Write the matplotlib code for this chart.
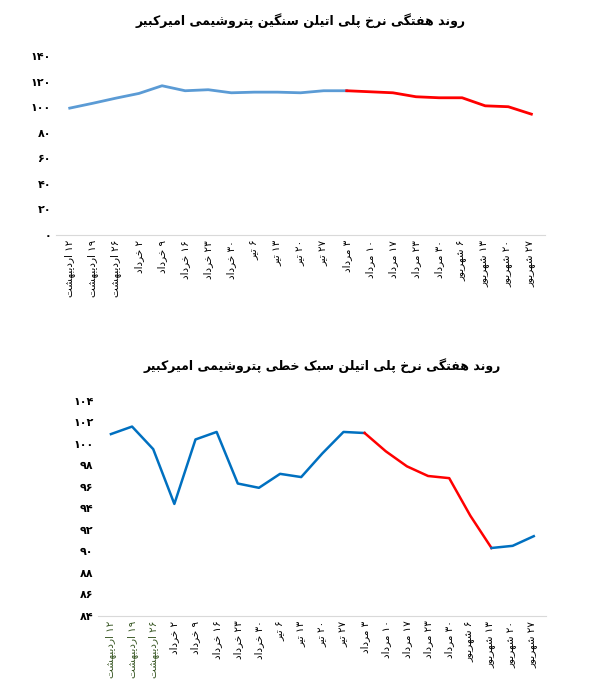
import matplotlib
matplotlib.use("Agg")
import matplotlib.pyplot as plt

categories = ["۱۲ اردیبهشت", "۱۹ اردیبهشت", "۲۶ اردیبهشت", "۲ خرداد", "۹ خرداد", "۱۶ خرداد",
              "۲۳ خرداد", "۳۰ خرداد", "۶ تیر", "۱۳ تیر", "۲۰ تیر", "۲۷ تیر", "۳ مرداد",
              "۱۰ مرداد", "۱۷ مرداد", "۲۳ مرداد", "۳۰ مرداد", "۶ شهریور", "۱۳ شهریور",
              "۲۰ شهریور", "۲۷ شهریور"]
hdpe = [99.2, 103, 107, 110.7, 116.7, 112.8, 113.6, 111.2, 111.7, 111.7, 111.2, 112.8,
        112.8, 112.0, 111.2, 108.1, 107.3, 107.3, 101.0, 100.3, 94.5]
lldpe = [100.9, 101.6, 99.5, 94.4, 100.4, 101.1, 96.3, 95.9, 97.2, 96.9, 99.1, 101.1,
         101.0, 99.3, 97.9, 97.0, 96.8, 93.3, 90.3, 90.5, 91.4]
title1 = "روند هفتگی نرخ پلی اتیلن سنگین پتروشیمی امیرکبیر"
title2 = "روند هفتگی نرخ پلی اتیلن سبک خطی پتروشیمی امیرکبیر"
yticks1 = list(range(0, 141, 20))
yticks2 = list(range(84, 105, 2))

FORMS = {
    'ا': (0xFE8D, 0xFE8E, None, None), 'ب': (0xFE8F, 0xFE90, 0xFE91, 0xFE92),
    'پ': (0xFB56, 0xFB57, 0xFB58, 0xFB59), 'ت': (0xFE95, 0xFE96, 0xFE97, 0xFE98),
    'خ': (0xFEA5, 0xFEA6, 0xFEA7, 0xFEA8), 'د': (0xFEA9, 0xFEAA, None, None),
    'ر': (0xFEAD, 0xFEAE, None, None), 'ز': (0xFEAF, 0xFEB0, None, None),
    'س': (0xFEB1, 0xFEB2, 0xFEB3, 0xFEB4), 'ش': (0xFEB5, 0xFEB6, 0xFEB7, 0xFEB8),
    'ط': (0xFEC1, 0xFEC2, 0xFEC3, 0xFEC4), 'ف': (0xFED1, 0xFED2, 0xFED3, 0xFED4),
    'ک': (0xFB8E, 0xFB8F, 0xFB90, 0xFB91), 'گ': (0xFB92, 0xFB93, 0xFB94, 0xFB95),
    'ل': (0xFEDD, 0xFEDE, 0xFEDF, 0xFEE0), 'م': (0xFEE1, 0xFEE2, 0xFEE3, 0xFEE4),
    'ن': (0xFEE5, 0xFEE6, 0xFEE7, 0xFEE8), 'ه': (0xFEE9, 0xFEEA, 0xFEEB, 0xFEEC),
    'و': (0xFEED, 0xFEEE, None, None), 'ی': (0xFBFC, 0xFBFD, 0xFBFE, 0xFBFF),
}

def shape_word(w):
    out = []
    for i, c in enumerate(w):
        if c not in FORMS:
            out.append(c); continue
        prev = w[i-1] if i > 0 else None
        nxt = w[i+1] if i < len(w)-1 else None
        jp = prev in FORMS and FORMS[prev][2] is not None
        jn = nxt in FORMS and FORMS[c][2] is not None
        f = FORMS[c]
        if jp and jn: code = f[3]
        elif jp: code = f[1]
        elif jn: code = f[2]
        else: code = f[0]
        out.append(chr(code))
    return "".join(out)

def rtl(s):
    toks = s.split(" ")
    res = []
    for t in reversed(toks):
        if t and all('\u06F0' <= ch <= '\u06F9' for ch in t):
            res.append(t)
        else:
            res.append(shape_word(t)[::-1])
    return " ".join(res)

def fa_num(n):
    return "".join(chr(0x06F0 + int(d)) for d in str(n))

plt.rcParams['font.family'] = 'DejaVu Sans'
fig = plt.figure(figsize=(6.14, 6.91), dpi=100)

def draw(ax, vals, red_range, color, yticks, title, lw):
    x = list(range(len(vals)))
    a, b = red_range
    ax.plot(x[:a+1], vals[:a+1], color=color, lw=lw)
    ax.plot(x[a:b+1], vals[a:b+1], color='#FF0000', lw=lw)
    if b < len(vals) - 1:
        ax.plot(x[b:], vals[b:], color=color, lw=lw)
    ax.set_ylim(yticks[0], yticks[-1])
    ax.set_yticks(yticks)
    ax.set_yticklabels([fa_num(t) for t in yticks], fontsize=8, fontweight='bold')
    ax.set_xlim(-0.6, len(vals) - 0.4)
    ax.set_xticks(x)
    ax.set_xticklabels([rtl(c) for c in categories], rotation=90, fontsize=7.5,
                       va='top')
    for s in ['top', 'right', 'left']:
        ax.spines[s].set_visible(False)
    ax.spines['bottom'].set_color('#D9D9D9')
    ax.tick_params(length=0)
    ax.set_title(rtl(title), fontsize=9, fontweight='bold', pad=22)

ax1 = fig.add_axes([0.091, 0.66, 0.797, 0.259])
draw(ax1, hdpe, (12, 20), '#5B9BD5', yticks1, title1, 2)
ax2 = fig.add_axes([0.16, 0.109, 0.73, 0.311])
draw(ax2, lldpe, (12, 18), '#0070C0', yticks2, title2, 1.8)
for lbl in ax2.get_xticklabels()[:3]:
    lbl.set_color('#375623')

fig.savefig("out.png", dpi=100)
